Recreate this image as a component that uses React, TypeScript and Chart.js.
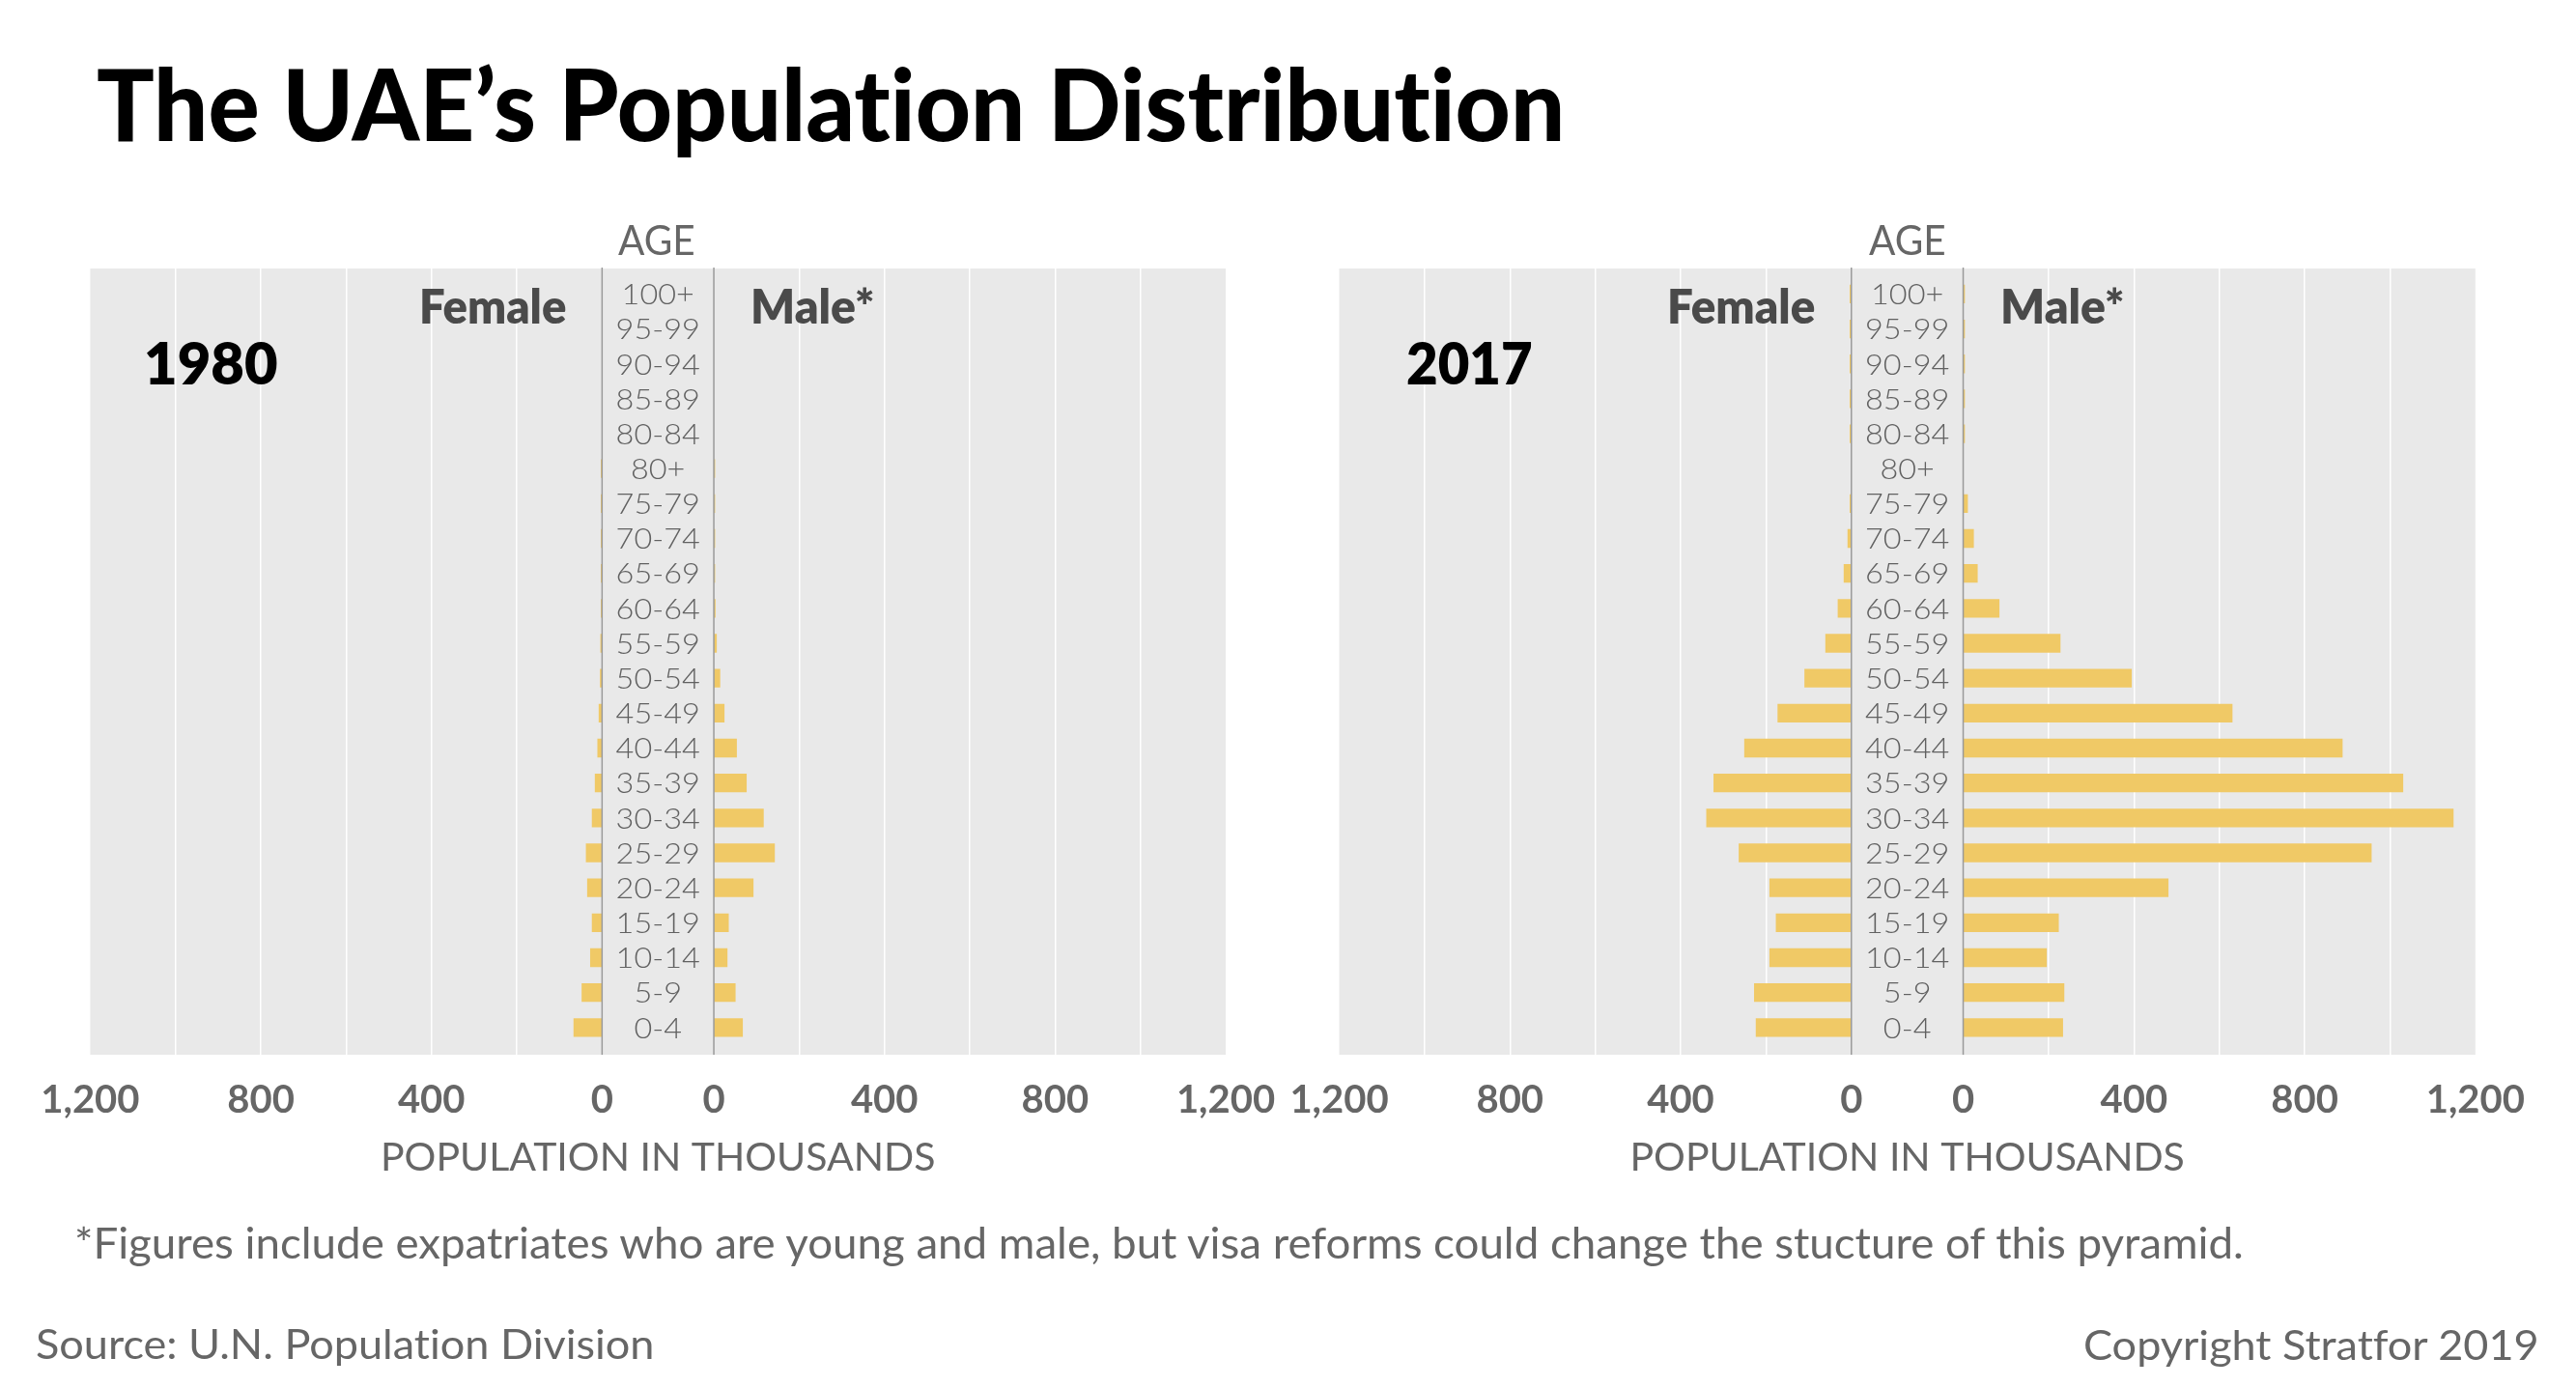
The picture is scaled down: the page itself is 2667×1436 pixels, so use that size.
import React, { useEffect, useLayoutEffect, useRef } from 'react';
import { Chart, registerables } from 'chart.js';

Chart.register(...registerables);

// ---------- data ----------
const ageGroups = ['100+', '95-99', '90-94', '85-89', '80-84', '80+', '75-79', '70-74', '65-69', '60-64', '55-59', '50-54', '45-49', '40-44', '35-39', '30-34', '25-29', '20-24', '15-19', '10-14', '5-9', '0-4'];

// population in thousands, same order as ageGroups
const female1980 = [0, 0, 0, 0, 0, 3, 3, 3, 3, 3, 4, 5, 8, 11, 17, 24, 38, 35, 24, 28, 48, 67];
const male1980 = [0, 0, 0, 0, 0, 3, 3, 3, 3, 4, 7, 15, 25, 54, 77, 117, 143, 93, 35, 32, 51, 68];
const female2017 = [4, 4, 4, 4, 4, 0, 4, 9, 18, 32, 61, 110, 173, 251, 323, 340, 264, 192, 177, 192, 228, 224];
const male2017 = [4, 4, 4, 4, 4, 0, 11, 25, 34, 85, 228, 395, 631, 889, 1031, 1149, 957, 481, 224, 196, 237, 234];

const gridValues = [0, 200, 400, 600, 800, 1000, 1200];
const labeledTicks = [0, 400, 800, 1200];

// ---------- styling ----------
const FONT = "Lato, 'Open Sans', 'DejaVu Sans', sans-serif";
const BG = '#e9e9e9';
const BAR = '#f0c966';
const GAP = 131; // half width of the central age column, in axis units
const MAX = 1200;
const PAGE_H = 1436;

const pyramidPlugin = {
  id: 'pyramid',
  beforeDraw(chart: any) {
    const { ctx, chartArea: a } = chart;
    ctx.save();
    ctx.fillStyle = BG;
    ctx.fillRect(a.left, a.top, a.right - a.left, a.bottom - a.top);
    ctx.restore();
  },
  afterDatasetsDraw(chart: any) {
    const { ctx, chartArea: a, scales } = chart;
    const x = scales.x;
    const y = scales.y;
    ctx.save();
    ctx.strokeStyle = '#9a9a9a';
    ctx.lineWidth = 1.5;
    [-GAP, GAP].forEach((v) => {
      const px = x.getPixelForValue(v);
      ctx.beginPath();
      ctx.moveTo(px, a.top - 1);
      ctx.lineTo(px, a.bottom);
      ctx.stroke();
    });
    const size = 30;
    ctx.fillStyle = '#616161';
    ctx.font = `300 ${size}px ${FONT}`;
    ctx.textAlign = 'center';
    ctx.textBaseline = 'alphabetic';
    const cx = x.getPixelForValue(0);
    ageGroups.forEach((g, i) => {
      ctx.save();
      ctx.translate(cx, y.getPixelForValue(i) + size * 0.36);
      ctx.scale(1.08, 1);
      ctx.fillText(g, 0, 0);
      ctx.restore();
    });
    ctx.restore();
  },
};

function makeConfig(female: number[], male: number[], padding: any): any {
  return {
    type: 'bar',
    data: {
      datasets: [
        {
          label: 'Female',
          data: female.map((v, i) => ({ x: [-(GAP + v), -GAP], y: i })),
          backgroundColor: BAR,
          borderWidth: 0,
          barPercentage: 0.534,
          categoryPercentage: 1,
          grouped: false,
        },
        {
          label: 'Male',
          data: male.map((v, i) => ({ x: [GAP, GAP + v], y: i })),
          backgroundColor: BAR,
          borderWidth: 0,
          barPercentage: 0.534,
          categoryPercentage: 1,
          grouped: false,
        },
      ],
    },
    options: {
      indexAxis: 'y',
      animation: false,
      responsive: true,
      maintainAspectRatio: false,
      events: [],
      layout: { padding },
      plugins: { legend: { display: false }, tooltip: { enabled: false } },
      scales: {
        x: {
          type: 'linear',
          offset: false,
          min: -(MAX + GAP),
          max: MAX + GAP,
          afterBuildTicks: (s: any) => {
            const neg = gridValues.slice().reverse().map((v) => ({ value: -(v + GAP) }));
            const pos = gridValues.map((v) => ({ value: v + GAP }));
            s.ticks = [...neg, ...pos];
          },
          afterFit: (s: any) => {
            s.height = 131;
            s.paddingLeft = 0;
            s.paddingRight = 0;
          },
          grid: {
            drawTicks: false,
            lineWidth: 1.5,
            color: (c: any) => {
              const a = Math.abs(c.tick ? c.tick.value : 0);
              return a === GAP || a === MAX + GAP ? 'rgba(0,0,0,0)' : '#ffffff';
            },
          },
          border: { display: false },
          ticks: {
            autoSkip: false,
            maxRotation: 0,
            minRotation: 0,
            padding: 23,
            color: '#666666',
            font: { family: FONT, size: 40, weight: '700' },
            callback: (value: any) => {
              const a = Math.round(Math.abs(Number(value)) - GAP);
              return labeledTicks.includes(a) ? a.toLocaleString('en-US') : '';
            },
          },
          title: {
            display: true,
            text: 'POPULATION IN THOUSANDS',
            color: '#666666',
            font: { family: FONT, size: 41, weight: 'normal' },
            padding: 0,
          },
        },
        y: {
          type: 'linear',
          display: false,
          offset: false,
          reverse: true,
          min: -0.73,
          max: 21.78,
          grid: { offset: false },
          afterBuildTicks: (s: any) => {
            s.ticks = ageGroups.map((_, i) => ({ value: i }));
          },
        },
      },
    },
    plugins: [pyramidPlugin],
  };
}

function Pyramid({ female, male, left, width, padding }: any) {
  const ref = useRef<HTMLCanvasElement>(null);
  useEffect(() => {
    const chart = new Chart(ref.current as HTMLCanvasElement, makeConfig(female, male, padding));
    return () => chart.destroy();
  }, []);
  return (
    <div style={{ position: 'absolute', left, top: 0, width, height: PAGE_H }}>
      <canvas ref={ref} />
    </div>
  );
}

function Label({ text, x, baseline, width, size, weight = 400, color = '#666666', align = 'left' }: any) {
  const outer = useRef<HTMLDivElement>(null);
  const txt = useRef<HTMLSpanElement>(null);
  const probe = useRef<HTMLSpanElement>(null);
  useLayoutEffect(() => {
    const o = outer.current as HTMLDivElement;
    const t = txt.current as HTMLSpanElement;
    const p = probe.current as HTMLSpanElement;
    const natural = t.offsetWidth || 1;
    const w = width ?? natural;
    const sx = width ? width / natural : 1;
    t.style.transform = `scaleX(${sx})`;
    const base = p.offsetTop;
    o.style.top = `${baseline - base}px`;
    const l = align === 'center' ? x - w / 2 : align === 'right' ? x - w : x;
    o.style.left = `${l}px`;
  }, []);
  return (
    <div
      ref={outer}
      style={{
        position: 'absolute',
        left: x,
        top: baseline,
        whiteSpace: 'nowrap',
        fontFamily: FONT,
        fontSize: size,
        fontWeight: weight,
        fontVariantLigatures: 'none',
        fontFeatureSettings: '"liga" 0, "clig" 0',
        color,
        lineHeight: 1.2,
      }}
    >
      <span ref={txt} style={{ display: 'inline-block', transformOrigin: '0 0' }}>{text}</span>
      <span ref={probe} style={{ display: 'inline-block', width: 0, height: 0 }} />
    </div>
  );
}

export default function App() {
  return (
    <div style={{ position: 'absolute', left: 0, top: 0, width: 2667, height: PAGE_H, background: '#ffffff', overflow: 'hidden' }}>
      <Pyramid female={female1980} male={male1980} left={0} width={1330} padding={{ left: 93.4, right: 61, top: 278, bottom: 213 }} />
      <Pyramid female={female2017} male={male2017} left={1330} width={1337} padding={{ left: 56.5, right: 104.2, top: 278, bottom: 213 }} />

      <Label text="The UAE’s Population Distribution" x={100} baseline={145.7} width={1520} size={102} weight={900} color="#000000" />

      <Label text="AGE" x={680} baseline={264} width={80} size={43} align="center" />
      <Label text="AGE" x={1975} baseline={264} width={80} size={43} align="center" />

      <Label text="Female" x={434} baseline={335} width={152} size={50} weight={800} color="#4a4a4a" />
      <Label text="Male*" x={777} baseline={335} width={128} size={50} weight={800} color="#4a4a4a" />
      <Label text="Female" x={1726} baseline={335} width={153} size={50} weight={800} color="#4a4a4a" />
      <Label text="Male*" x={2071} baseline={335} width={128} size={50} weight={800} color="#4a4a4a" />

      <Label text="1980" x={149} baseline={398.3} width={139} size={61} weight={800} color="#000000" />
      <Label text="2017" x={1456} baseline={398.3} width={131} size={61} weight={800} color="#000000" />

      <Label
        text="*Figures include expatriates who are young and male, but visa reforms could change the stucture of this pyramid."
        x={77}
        baseline={1303}
        width={2246}
        size={44}
      />
      <Label text="Source: U.N. Population Division" x={37} baseline={1407} width={641} size={42} />
      <Label text="Copyright Stratfor 2019" x={2157} baseline={1408} width={472} size={43} />
    </div>
  );
}
